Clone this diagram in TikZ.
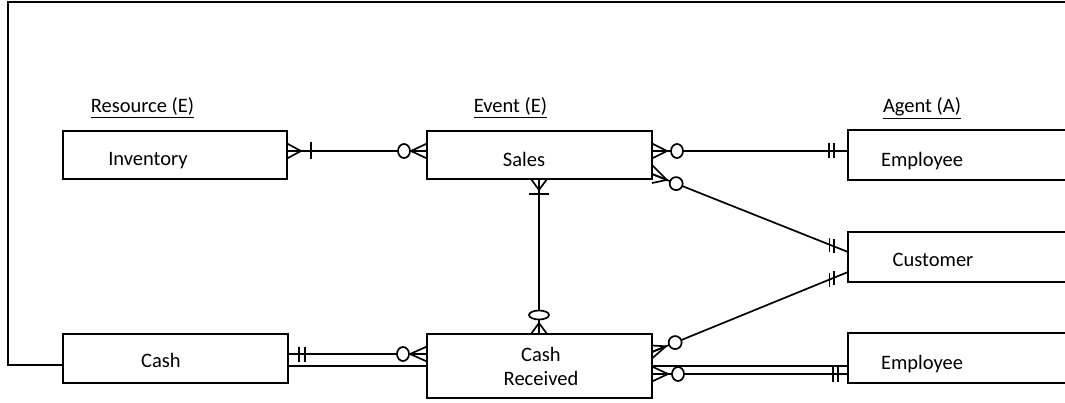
\documentclass[tikz,border=0pt]{standalone}
\usepackage{fontspec}
\setmainfont{Carlito}
\usetikzlibrary{calc}
\tikzset{
  erline/.style={line width=1.7pt, line cap=butt},
  box/.style={draw, line width=1.7pt, inner sep=0pt, outer sep=0pt, fill=white},
  boxtext/.style={anchor=base, inner sep=0pt, font=\fontsize{20.5}{24}\selectfont},
  hdr/.style={anchor=base, inner sep=0pt, font=\fontsize{20.5}{24}\selectfont}
}
\newcommand\erfoot[4]{%
  \draw[erline] ($(#1)+(#4)$) -- ($(#1)!#3!(#2)$) -- ($(#1)-(#4)$);
  \draw[erline] (#1) -- ($(#1)!#3!(#2)$);}
\newcommand\erbar[4]{%
  \draw[erline] ($(#1)!#3!(#2)!#4!90:(#2)$) -- ($(#1)!#3!(#2)!#4!-90:(#2)$);}
\newcommand\ervbar[4]{%
  \draw[erline] ($(#1)!#3!(#2)+(0,#4)$) -- ($(#1)!#3!(#2)-(0,#4)$);}
\newcommand\erring[5]{%
  \draw[erline, fill=white] ($(#1)!#3!(#2)$) ellipse[x radius=#4, y radius=#5];}
\begin{document}
\begin{tikzpicture}[x=1pt, y=-1pt]
\path[use as bounding box] (0,0) rectangle (1065,403);
\clip (0,0) rectangle (1065,403);

% boxes
\node[box, minimum width=224pt, minimum height=48pt] (inv) at (175,155) {};
\node[box, minimum width=225pt, minimum height=48pt] (sales) at (539.5,155) {};
\node[box, minimum width=232pt, minimum height=50pt] (emp1) at (964,155) {};
\node[box, minimum width=232pt, minimum height=50pt] (cust) at (964,257) {};
\node[box, minimum width=225pt, minimum height=49pt] (cash) at (175.5,358.5) {};
\node[box, minimum width=225pt, minimum height=64pt] (cr) at (539.5,366) {};
\node[box, minimum width=232pt, minimum height=50pt] (emp2) at (964,358) {};

% texts
\node[boxtext] (tinv) at (148,166) {Inventory};
\node[boxtext] (tsales) at (524,167) {Sales};
\node[boxtext] (temp1) at (922,167) {Employee};
\node[boxtext] (tcust) at (933,266) {Customer};
\node[boxtext] (tcash) at (161,367) {Cash};
\node[boxtext] (tcr1) at (541,361) {Cash};
\node[boxtext] (tcr2) at (541,385) {Received};
\node[boxtext] (temp2) at (922,369) {Employee};

% headers
\node[hdr] (hres) at (142.5,113) {\underline{Resource (E)}};
\node[hdr] (hev) at (510.5,113) {\underline{Event (E)}};
\node[hdr] (hag) at (922,113) {\underline{Agent (A)}};

% frame line
\draw[erline] (cash.west |- 0,365) -- (8,365) -- (8,2) -- (1075,2);

% 1 Inventory - Sales
\coordinate (a1) at (inv.east |- 0,151);
\coordinate (b1) at (sales.west |- 0,151);
\draw[erline] (a1) -- (b1);
\erfoot{a1}{b1}{14pt}{0,7.5}
\erbar{a1}{b1}{24pt}{8.5pt}
\erfoot{b1}{a1}{16pt}{0,7.5}
\erring{b1}{a1}{23pt}{6}{7}

% 2 Sales - Employee
\coordinate (a2) at (sales.east |- 0,151);
\coordinate (b2) at (emp1.west |- 0,151);
\draw[erline] (a2) -- (b2);
\erfoot{a2}{b2}{15pt}{0,7.5}
\erring{a2}{b2}{25pt}{6}{7}
\erbar{b2}{a2}{14pt}{7.5pt}
\erbar{b2}{a2}{19pt}{7.5pt}

% 3 Sales - Customer
\coordinate (a3) at (sales.east |- 0,174);
\coordinate (b3) at (cust.west |- 0,252);
\draw[erline] (a3) -- (b3);
\erfoot{a3}{b3}{16pt}{0,9}
\erring{a3}{b3}{26pt}{6.5}{6.5}
\ervbar{b3}{a3}{15pt}{7}
\ervbar{b3}{a3}{20pt}{7}

% 4 Sales - Cash Received
\coordinate (a4) at (sales.south -| 539,0);
\coordinate (b4) at (cr.north -| 539,0);
\draw[erline] (a4) -- (b4);
\erfoot{a4}{b4}{11pt}{8,0}
\erbar{a4}{b4}{15pt}{10pt}
\erfoot{b4}{a4}{11pt}{8,0}
\erring{b4}{a4}{19pt}{10}{4.5}

% 5 Cash - Cash Received
\coordinate (a5) at (cash.east |- 0,354);
\coordinate (b5) at (cr.west |- 0,354);
\draw[erline] (a5) -- (b5);
\erbar{a5}{b5}{11pt}{7.5pt}
\erbar{a5}{b5}{17pt}{7.5pt}
\erfoot{b5}{a5}{17pt}{0,7.5}
\erring{b5}{a5}{24pt}{6}{7}

% 6 plain Cash - Cash Received
\draw[erline] (cash.east |- 0,366) -- (cr.west |- 0,366);

% 7 Cash Received - Customer
\coordinate (a7) at (cr.east |- 0,352);
\coordinate (b7) at (cust.west |- 0,272);
\draw[erline] (a7) -- (b7);
\erfoot{a7}{b7}{15pt}{0,6.5}
\erring{a7}{b7}{25pt}{6.5}{6.5}
\ervbar{b7}{a7}{15pt}{7}
\ervbar{b7}{a7}{20pt}{7}

% 8 plain Cash Received - Employee
\draw[erline] (cr.east |- 0,366) -- (emp2.west |- 0,366);

% 9 Cash Received - Employee
\coordinate (a9) at (cr.east |- 0,374);
\coordinate (b9) at (emp2.west |- 0,374);
\draw[erline] (a9) -- (b9);
\erfoot{a9}{b9}{16pt}{0,7.5}
\erring{a9}{b9}{26pt}{6}{7}
\erbar{b9}{a9}{10pt}{7.5pt}
\erbar{b9}{a9}{15pt}{7.5pt}
\end{tikzpicture}
\end{document}
